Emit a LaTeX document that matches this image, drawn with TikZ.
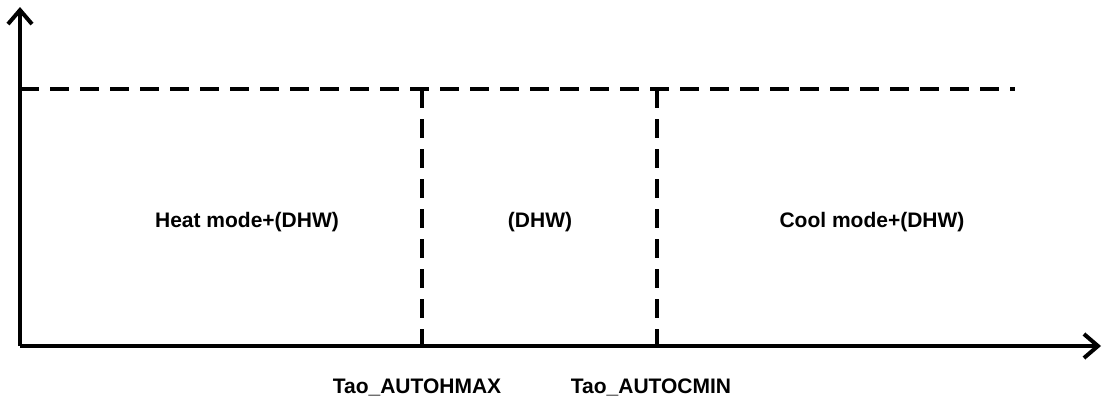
\documentclass[tikz,border=0pt]{standalone}
\usepackage{fontspec}
\setmainfont{Liberation Sans}
\usetikzlibrary{arrows.meta}

\begin{document}
\begin{tikzpicture}[x=1pt,y=-1pt,
    axis/.style={line width=4pt,-{Straight Barb[length=14pt,width=24pt,line width=4pt]}},
    limit/.style={line width=4pt,dash pattern=on 19pt off 11pt},
    lbl/.style={font=\fontsize{21}{25}\selectfont\bfseries}]
        \useasboundingbox (0,0) rectangle (1103,405);

        % Positions of the axes and the two limits
        \pgfmathsetmacro{\xO}{20}
        \pgfmathsetmacro{\yO}{346}
        \pgfmathsetmacro{\yTop}{89}
        \pgfmathsetmacro{\hMax}{422}
        \pgfmathsetmacro{\cMin}{657}

        \coordinate (origin) at (\xO,\yO);
        \coordinate (ytip) at (\xO,7);
        \coordinate (xtip) at (1101,\yO);

        % Draw the axes
        \draw[axis] (origin) -- (ytip);
        \draw[axis] (origin) -- (xtip);

        % Upper dashed line
        \coordinate (topL) at (\xO,\yTop);
        \coordinate (topR) at (1015,\yTop);
        \draw[limit] (topL) -- (topR);

        % Vertical limits
        \coordinate (hTop) at (\hMax,\yTop);
        \coordinate (hBot) at (\hMax,\yO);
        \coordinate (cTop) at (\cMin,\yTop);
        \coordinate (cBot) at (\cMin,\yO);
        \draw[limit] (hTop) -- (hBot);
        \draw[limit] (cTop) -- (cBot);

        % Zone labels
        \node[lbl] (heat) at (247,222) {Heat mode+(DHW)};
        \node[lbl] (dhw) at (540,222) {(DHW)};
        \node[lbl] (cool) at (872,222) {Cool mode+(DHW)};

        % Limit labels
        \node[lbl] (hmax) at (417,387) {Tao\_AUTOHMAX};
        \node[lbl] (cmin) at (651,387) {Tao\_AUTOCMIN};
    \end{tikzpicture}
\end{document}
